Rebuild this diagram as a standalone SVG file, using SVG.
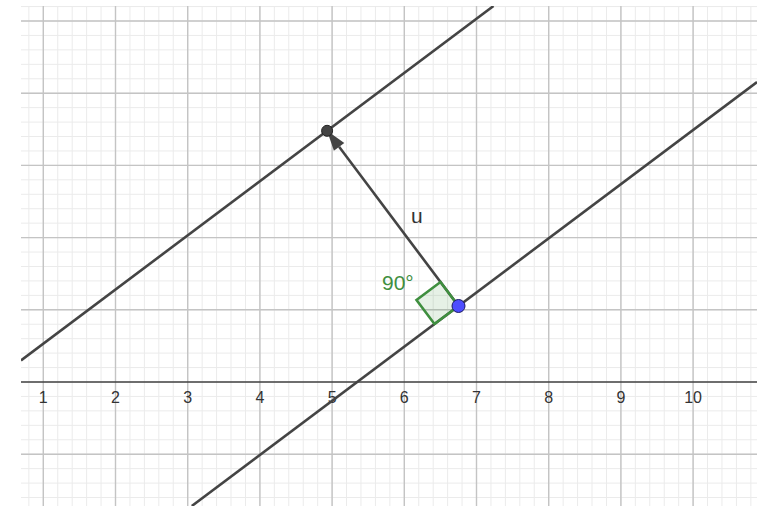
<svg xmlns="http://www.w3.org/2000/svg" width="774" height="506" viewBox="0 0 774 506">
  <defs>
    <style>
      .minor{stroke:#ebebeb;stroke-width:1;fill:none}
      .major{stroke:#c4c4c4;stroke-width:1.4;fill:none}
      .axis{stroke:#404040;stroke-width:1.6;fill:none}
      .obj{stroke:#444;stroke-width:2.6;fill:none;stroke-linecap:butt}
      .tick{font-family:"Liberation Sans",Arial,sans-serif;font-size:16px;fill:#333;text-anchor:middle}
      .lbl{font-family:"Liberation Sans",Arial,sans-serif;font-size:21px}
    </style>
    <clipPath id="view"><rect x="21" y="6" width="736" height="500"/></clipPath>
  </defs>
  <rect width="774" height="506" fill="#fff"/>
  <g id="grid" clip-path="url(#view)">
    <path class="minor" d="M28.86 6v500m14.44-500v500m14.44-500v500m14.44-500v500m14.44-500v500m14.44-500v500m14.44-500v500m14.44-500v500m14.44-500v500m14.44-500v500m14.44-500v500m14.44-500v500m14.44-500v500m14.44-500v500m14.44-500v500m14.44-500v500m14.44-500v500m14.44-500v500m14.44-500v500m14.44-500v500m14.44-500v500m14.44-500v500m14.44-500v500m14.44-500v500m14.44-500v500m14.44-500v500m14.44-500v500m14.44-500v500m14.44-500v500m14.44-500v500m14.44-500v500m14.44-500v500m14.44-500v500m14.44-500v500m14.44-500v500m14.44-500v500m14.44-500v500m14.44-500v500m14.44-500v500m14.44-500v500m14.44-500v500m14.44-500v500m14.44-500v500m14.44-500v500m14.44-500v500m14.44-500v500m14.44-500v500m14.44-500v500m14.44-500v500m14.44-500v500m14.44-500v500"/>
    <path class="minor" d="M21 6.56h736m-736 14.44h736m-736 14.44h736m-736 14.44h736m-736 14.44h736m-736 14.44h736m-736 14.44h736m-736 14.44h736m-736 14.44h736m-736 14.44h736m-736 14.44h736m-736 14.44h736m-736 14.44h736m-736 14.44h736m-736 14.44h736m-736 14.44h736m-736 14.44h736m-736 14.44h736m-736 14.44h736m-736 14.44h736m-736 14.44h736m-736 14.44h736m-736 14.44h736m-736 14.44h736m-736 14.44h736m-736 14.44h736m-736 14.44h736m-736 14.44h736m-736 14.44h736m-736 14.44h736m-736 14.44h736m-736 14.44h736m-736 14.44h736m-736 14.44h736m-736 14.44h736"/>
    <path class="major" d="M43.3 6v500m72.2-500v500m72.2-500v500m72.2-500v500m72.2-500v500m72.2-500v500m72.2-500v500m72.2-500v500m72.2-500v500m72.2-500v500"/>
    <path class="major" d="M21 21h736M21 93.2h736M21 165.4h736M21 237.6h736M21 309.8h736M21 454.2h736"/>
  </g>
  <g id="axis">
    <path class="axis" d="M21 382H757"/>
    <text class="tick" x="43.3" y="403">1</text>
    <text class="tick" x="115.5" y="403">2</text>
    <text class="tick" x="187.7" y="403">3</text>
    <text class="tick" x="259.9" y="403">4</text>
    <text class="tick" x="332.1" y="403">5</text>
    <text class="tick" x="404.3" y="403">6</text>
    <text class="tick" x="476.5" y="403">7</text>
    <text class="tick" x="548.7" y="403">8</text>
    <text class="tick" x="620.9" y="403">9</text>
    <text class="tick" x="693.1" y="403">10</text>
  </g>
  <g id="connectors" clip-path="url(#view)">
    <path id="line1" class="obj" d="M21 360.4L493.5 6"/>
    <path id="line2" class="obj" d="M191.8 506L757 82.1"/>
    <path id="vector-u" class="obj" d="M458.5 306L339.1 146.8"/>
    <polygon id="vector-u-head" points="327.1,130.8 333.9,150.7 344.3,142.9" fill="#444"/>
  </g>
  <g id="angle">
    <polygon points="458.5,306 440.5,282 416.5,300 434.5,324" fill="#3f8f3f" fill-opacity="0.13" stroke="#3f8f3f" stroke-width="2.6" stroke-linejoin="miter"/>
    <text class="lbl" x="382" y="290" fill="#3f8f3f">90°</text>
  </g>
  <g id="label-u">
    <text class="lbl" x="411" y="223" fill="#333">u</text>
  </g>
  <g id="pointA">
    <circle cx="327.1" cy="130.8" r="5.5" fill="#444" stroke="#222" stroke-width="1"/>
  </g>
  <g id="pointB">
    <circle cx="458.5" cy="306" r="6.5" fill="#4d4dff" stroke="#1a1a66" stroke-width="1"/>
  </g>
</svg>
